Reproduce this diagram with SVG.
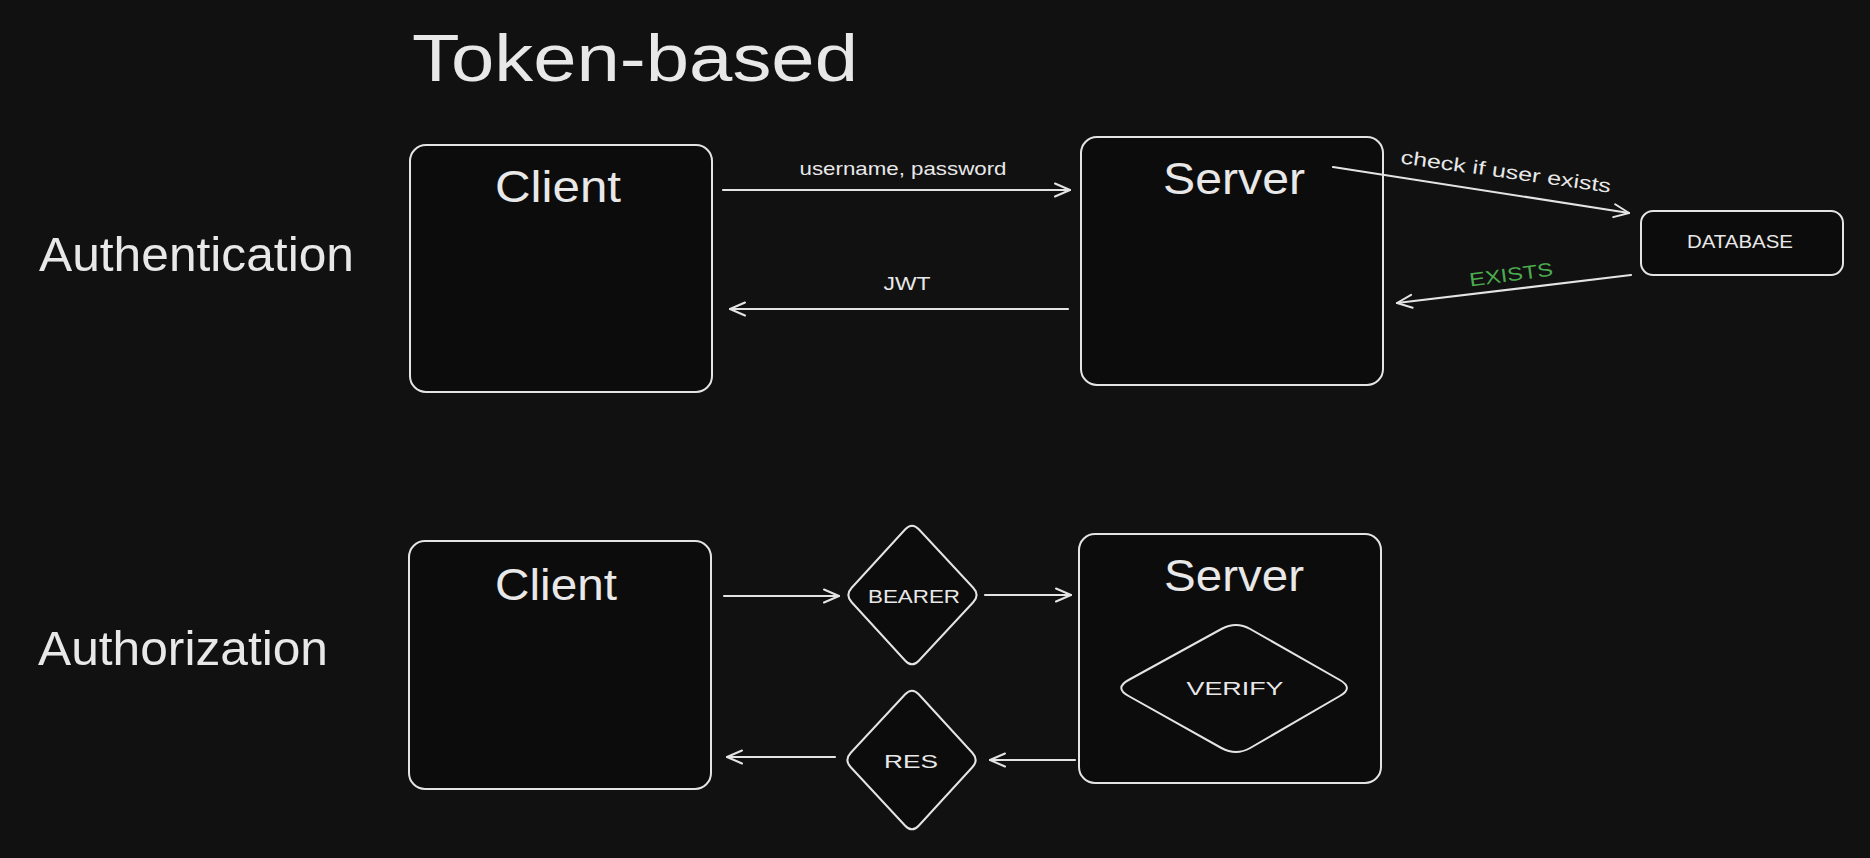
<svg xmlns="http://www.w3.org/2000/svg" width="1870" height="858" viewBox="0 0 1870 858">
<defs>
<style>
.bg{fill:#111111}
.box{fill:#0c0c0c;stroke:#e4e4e4;stroke-width:2}
.dia{fill:#0c0c0c;stroke:#e4e4e4;stroke-width:2}
.ln{fill:none;stroke:#e4e4e4;stroke-width:2.2;stroke-linecap:round}
.t{font-family:"Liberation Sans",Arial,sans-serif;fill:#e8e8e8}
.big{font-size:48px}
.node{font-size:44px;text-anchor:middle}
.lab{font-size:19px;text-anchor:middle}
.green{fill:#4caa4f}
</style>
<marker id="arr" viewBox="0 0 18 16" refX="16" refY="8" markerWidth="18" markerHeight="16" markerUnits="userSpaceOnUse" orient="auto">
<path d="M1,1.5 L16,8 L1,14.5" fill="none" stroke="#e4e4e4" stroke-width="2" stroke-linecap="round" stroke-linejoin="round"/>
</marker>
</defs>
<rect class="bg" x="0" y="0" width="1870" height="858"/>

<text id="title" class="t" x="412" y="81" font-size="66" textLength="446" lengthAdjust="spacingAndGlyphs">Token-based</text>
<text id="lbl-authn" class="t big" x="39" y="271" textLength="315" lengthAdjust="spacingAndGlyphs">Authentication</text>
<text id="lbl-authz" class="t big" x="38" y="665" textLength="290" lengthAdjust="spacingAndGlyphs">Authorization</text>

<g id="client-authn">
<rect class="box" x="410" y="145" width="302" height="247" rx="16"/>
<text class="t node" x="558" y="202" textLength="126" lengthAdjust="spacingAndGlyphs">Client</text>
</g>
<g id="server-authn">
<rect class="box" x="1081" y="137" width="302" height="248" rx="16"/>
<text class="t node" x="1234" y="194" textLength="142" lengthAdjust="spacingAndGlyphs">Server</text>
</g>
<g id="database">
<rect class="box" x="1641" y="211" width="202" height="64" rx="12"/>
<text class="t lab" x="1740" y="248" font-size="18" textLength="106" lengthAdjust="spacingAndGlyphs">DATABASE</text>
</g>

<g id="client-authz">
<rect class="box" x="409" y="541" width="302" height="248" rx="16"/>
<text class="t node" x="556" y="600" textLength="122" lengthAdjust="spacingAndGlyphs">Client</text>
</g>
<g id="bearer">
<path class="dia" d="M918.8,529.3 L973.2,587.7 Q980,595 973.2,602.3 L918.8,660.7 Q912,668 905.3,660.7 L851.7,602.3 Q845,595 851.7,587.7 L905.3,529.3 Q912,522 918.8,529.3 Z"/>
<text class="t lab" x="914" y="603" font-size="21" textLength="92" lengthAdjust="spacingAndGlyphs">BEARER</text>
</g>
<g id="server-authz">
<rect class="box" x="1079" y="534" width="302" height="249" rx="16"/>
<text class="t node" x="1234" y="591" textLength="140" lengthAdjust="spacingAndGlyphs">Server</text>
</g>
<g id="verify">
<path class="dia" d="M1250.2,629 L1339.8,680 Q1354,688 1339.8,696 L1250.2,748 Q1236,756 1221.4,748 L1128.6,696 Q1114,688 1128.6,680 L1221.4,629 Q1236,621 1250.2,629 Z"/>
<text class="t lab" x="1235" y="695" font-size="25" textLength="97" lengthAdjust="spacingAndGlyphs">VERIFY</text>
</g>
<g id="res">
<path class="dia" d="M918.7,694.3 L972.3,752.7 Q979,760 972.3,767.3 L918.7,825.7 Q912,833 905.2,825.7 L850.8,767.3 Q844,760 850.8,752.7 L905.2,694.3 Q912,687 918.7,694.3 Z"/>
<text class="t lab" x="911" y="768" font-size="25" textLength="54" lengthAdjust="spacingAndGlyphs">RES</text>
</g>

<g id="connectors">
<line class="ln" x1="723" y1="190" x2="1070" y2="190" marker-end="url(#arr)"/>
<line class="ln" x1="1068" y1="309" x2="730" y2="309" marker-end="url(#arr)"/>
<line class="ln" x1="1333" y1="167" x2="1629" y2="213" marker-end="url(#arr)"/>
<line class="ln" x1="1631" y1="275" x2="1397" y2="303" marker-end="url(#arr)"/>
<line class="ln" x1="724" y1="596" x2="839" y2="596" marker-end="url(#arr)"/>
<line class="ln" x1="985" y1="595" x2="1071" y2="595" marker-end="url(#arr)"/>
<line class="ln" x1="1075" y1="760" x2="990" y2="760" marker-end="url(#arr)"/>
<line class="ln" x1="835" y1="757" x2="727" y2="757" marker-end="url(#arr)"/>
<text class="t lab" x="903" y="175" textLength="207" lengthAdjust="spacingAndGlyphs">username, password</text>
<text class="t lab" x="907" y="290" textLength="47" lengthAdjust="spacingAndGlyphs">JWT</text>
<text class="t lab" transform="translate(1505,178) rotate(8)" x="0" y="0" font-size="21" textLength="212" lengthAdjust="spacingAndGlyphs">check if user exists</text>
<text class="t lab green" transform="translate(1512,281) rotate(-7.5)" x="0" y="0" font-size="20" textLength="84" lengthAdjust="spacingAndGlyphs">EXISTS</text>
</g>
</svg>
